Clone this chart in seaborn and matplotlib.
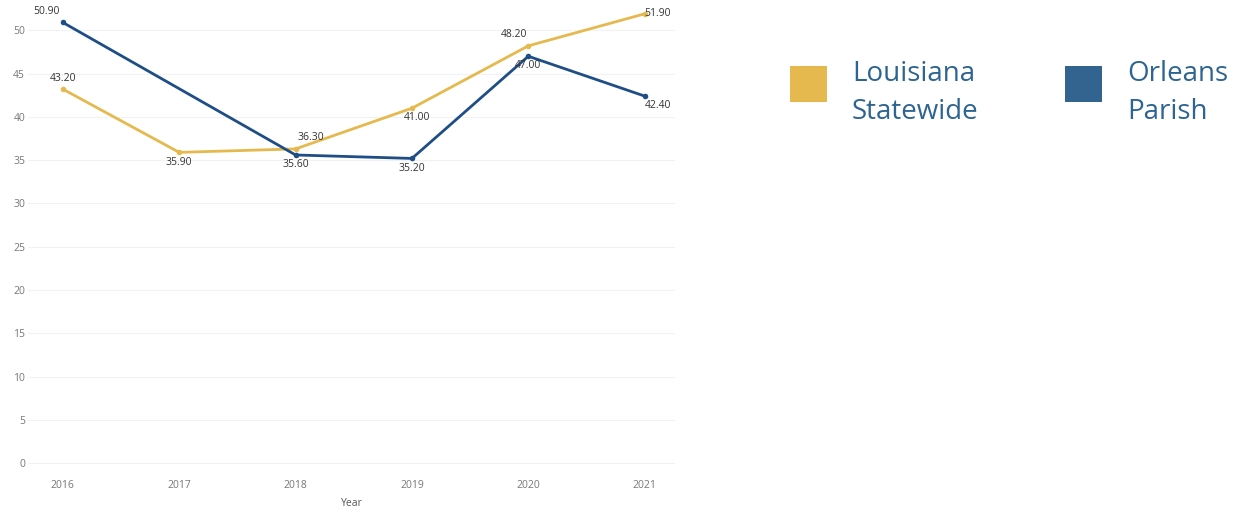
import matplotlib
matplotlib.use("Agg")
import matplotlib.pyplot as plt
from matplotlib.patches import Rectangle
import seaborn as sns
import pandas as pd

years = [2016, 2017, 2018, 2019, 2020, 2021]
statewide = [43.2, 35.9, 36.3, 41.0, 48.2, 51.9]
orleans = [50.9, None, 35.6, 35.2, 47.0, 42.4]
series_names = ["Louisiana Statewide", "Orleans Parish"]
legend_labels = ["Louisiana\nStatewide", "Orleans\nParish"]
y_ticks = [0, 5, 10, 15, 20, 25, 30, 35, 40, 45, 50]

gold = "#E5B94E"
navy = "#1F4E86"
navy_key = "#33638F"
text_blue = "#2D6491"

rows = []
for y, v in zip(years, statewide):
    rows.append({"Year": y, "Value": v, "Series": series_names[0]})
for y, v in zip(years, orleans):
    if v is not None:
        rows.append({"Year": y, "Value": v, "Series": series_names[1]})
df = pd.DataFrame(rows)

sns.set_theme(style="white")
plt.rcParams["font.family"] = ["Open Sans", "DejaVu Sans"]

fig = plt.figure(figsize=(12.37, 5.15), dpi=100)
ax = fig.add_axes([0.0226, 0.087, 0.523, 0.903])

sns.lineplot(data=df, x="Year", y="Value", hue="Series",
             palette={series_names[0]: gold, series_names[1]: navy},
             marker="o", markersize=4, markeredgewidth=0, linewidth=2,
             legend=False, ax=ax)

ax.set_xlim(2015.7, 2021.26)
ax.set_ylim(-0.8, 52.9)
ax.set_xticks(years)
ax.set_xticklabels([str(y) for y in years])
ax.set_yticks(y_ticks)
ax.grid(axis="y", color="#f2f2f2", linewidth=0.8)
ax.set_axisbelow(True)
for s in ax.spines.values():
    s.set_visible(False)
ax.tick_params(axis="both", labelsize=7.5, colors="#777777", length=0)
ax.tick_params(axis="x", pad=7)
ax.tick_params(axis="y", pad=2)
ax.set_ylabel("")
ax.set_xlabel("Year", fontsize=7.5, color="#555555", labelpad=5)

label_kw = dict(fontsize=7.5, color="#333333", textcoords="offset points")

def put(x, v, dx, dy, ha="center", va="center"):
    ax.annotate(f"{v:.2f}", (x, v), xytext=(dx, dy), ha=ha, va=va, **label_kw)

# statewide labels
put(2016, 43.2, 0, 8)
put(2017, 35.9, 0, -7)
put(2018, 36.3, 11, 8)
put(2019, 41.0, 4, -7)
put(2020, 48.2, -10, 8)
put(2021, 51.9, 0, 0, ha="left")
# orleans labels
put(2016, 50.9, -12, 8)
put(2018, 35.6, 0, -7)
put(2019, 35.2, 0, -7)
put(2020, 47.0, 0, -7)
put(2021, 42.4, 0, -7, ha="left")

# legend keys
fig.add_artist(Rectangle((790 / 1237, 1 - 102 / 515), 37 / 1237, 36 / 515,
                         transform=fig.transFigure, color=gold, lw=0))
fig.add_artist(Rectangle((1065 / 1237, 1 - 102 / 515), 37 / 1237, 36 / 515,
                         transform=fig.transFigure, color=navy_key, lw=0))
fig.text(852 / 1237, 1 - 93 / 515, legend_labels[0], fontsize=20,
         color=text_blue, va="center", ha="left", linespacing=1.5)
fig.text(1127 / 1237, 1 - 93 / 515, legend_labels[1], fontsize=20,
         color=text_blue, va="center", ha="left", linespacing=1.5)

fig.savefig("out.png", dpi=100)
